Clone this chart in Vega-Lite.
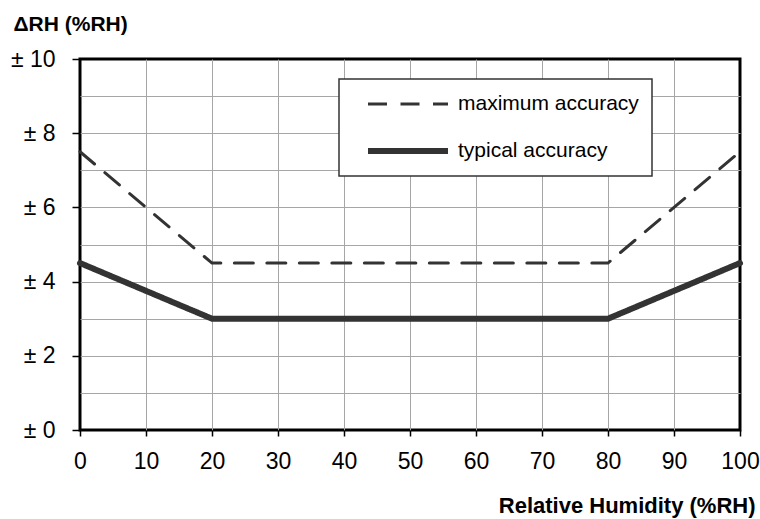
{
  "$schema": "https://vega.github.io/schema/vega-lite/v6.json",
  "autosize": {"type": "none"},
  "width": 660,
  "height": 371,
  "padding": {"left": 80, "top": 59, "right": 20, "bottom": 89},
  "background": "white",
  "config": {
    "view": {"stroke": "black", "strokeWidth": 3},
    "font": "Liberation Sans",
    "axis": {
      "labelFont": "Liberation Sans",
      "titleFont": "Liberation Sans",
      "labelColor": "black",
      "titleColor": "black",
      "domain": false,
      "gridWidth": 1,
      "tickWidth": 1.5,
      "labelFlush": false,
      "labelOverlap": false
    },
    "legend": {
      "orient": "none",
      "legendX": 259,
      "legendY": 20,
      "strokeColor": "#333333",
      "strokeWidth": 1.5,
      "fillColor": "white",
      "padding": 13,
      "symbolType": "stroke",
      "symbolSize": 6400,
      "symbolStrokeColor": "#333333",
      "symbolOffset": 13,
      "labelFont": "Liberation Sans",
      "labelFontSize": 21,
      "labelColor": "black",
      "labelOffset": 7,
      "labelLimit": 0,
      "rowPadding": 23,
      "clipHeight": 24
    }
  },
  "data": {
    "values": [
      {"series": "maximum accuracy", "rh": 0, "acc": 7.5},
      {"series": "maximum accuracy", "rh": 20, "acc": 4.5},
      {"series": "maximum accuracy", "rh": 80, "acc": 4.5},
      {"series": "maximum accuracy", "rh": 100, "acc": 7.5},
      {"series": "typical accuracy", "rh": 0, "acc": 4.5},
      {"series": "typical accuracy", "rh": 20, "acc": 3},
      {"series": "typical accuracy", "rh": 80, "acc": 3},
      {"series": "typical accuracy", "rh": 100, "acc": 4.5}
    ]
  },
  "mark": {"type": "line", "color": "#333333", "strokeCap": "round"},
  "encoding": {
    "x": {
      "field": "rh",
      "type": "quantitative",
      "scale": {"domain": [0, 100], "nice": false, "zero": false},
      "axis": {
        "values": [0, 10, 20, 30, 40, 50, 60, 70, 80, 90, 100],
        "title": "Relative Humidity (%RH)",
        "labelFontSize": 23,
        "labelPadding": 14,
        "tickSize": 6,
        "tickColor": "black",
        "gridColor": {"condition": {"test": "datum.value === 0 || datum.value === 100", "value": "rgba(0,0,0,0)"}, "value": "#a6a6a6"},
        "titleFontSize": 22,
        "titleFontWeight": "bold",
        "titleX": 675,
        "titleY": 82,
        "titleAlign": "right",
        "titleBaseline": "alphabetic"
      }
    },
    "y": {
      "field": "acc",
      "type": "quantitative",
      "scale": {"domain": [0, 10], "nice": false},
      "axis": {
        "values": [0, 1, 2, 3, 4, 5, 6, 7, 8, 9, 10],
        "labelExpr": "datum.value % 2 === 0 ? '± ' + datum.value : ''",
        "title": "ΔRH (%RH)",
        "labelFontSize": 23,
        "labelPadding": 17,
        "tickSize": 8,
        "tickColor": {"condition": {"test": "datum.value % 2 === 0", "value": "black"}, "value": "rgba(0,0,0,0)"},
        "gridColor": {"condition": {"test": "datum.value === 0 || datum.value === 10", "value": "rgba(0,0,0,0)"}, "value": "#a6a6a6"},
        "titleFontSize": 21,
        "titleFontWeight": "bold",
        "titleAngle": 0,
        "titleX": -67,
        "titleY": -29,
        "titleAlign": "left",
        "titleBaseline": "alphabetic"
      }
    },
    "strokeDash": {
      "field": "series",
      "type": "nominal",
      "scale": {"domain": ["maximum accuracy", "typical accuracy"], "range": [[19, 13.5], [1, 0]]},
      "legend": {"title": null}
    },
    "strokeWidth": {
      "field": "series",
      "type": "nominal",
      "scale": {"domain": ["maximum accuracy", "typical accuracy"], "range": [3, 6]},
      "legend": {"title": null}
    }
  }
}
